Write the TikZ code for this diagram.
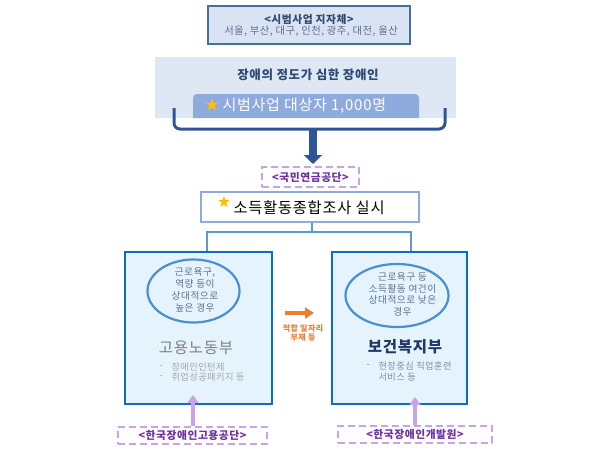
\documentclass[tikz,border=0pt]{standalone}
\usepackage{fontspec}
\setmainfont{Noto Sans CJK KR}[LetterSpace=5]
\usetikzlibrary{arrows.meta,shapes.geometric}
\definecolor{topborder}{HTML}{41719C}
\definecolor{topfill}{HTML}{DAE3F3}
\definecolor{toptext}{HTML}{2F4B6E}
\definecolor{subtext}{HTML}{5A7090}
\definecolor{bandfill}{HTML}{DEE8F5}
\definecolor{bandtext}{HTML}{2E4A72}
\definecolor{barfill}{HTML}{8FAADC}
\definecolor{bracketc}{HTML}{2F5597}
\definecolor{connc}{HTML}{5B9BD5}
\definecolor{deptborder}{HTML}{0F6CC4}
\definecolor{deptfill}{HTML}{E4F3FC}
\definecolor{ellc}{HTML}{4A90D0}
\definecolor{elltext}{HTML}{5E7291}
\definecolor{purpleline}{HTML}{C8A4E6}
\definecolor{purpletext}{HTML}{7030A0}
\definecolor{orangec}{HTML}{ED7D31}
\definecolor{gold}{HTML}{FFC000}
\definecolor{navy}{HTML}{1F3864}
\tikzset{
  dashbox/.style={draw=purpleline, line width=2.5pt, dash pattern=on 7pt off 4pt, fill=white, inner sep=0pt},
  dashtext/.style={text=purpletext, font=\bfseries\fontsize{10.8}{12}\selectfont},
  deptbox/.style={draw=deptborder, line width=2pt, fill=deptfill},
  ellbox/.style={draw=ellc, line width=2.2pt, ellipse, inner sep=0pt},
  elltxt/.style={text=elltext, align=center, font=\fontsize{9.7}{11.8}\selectfont},
  conn/.style={draw=connc, line width=2.5pt},
  uparrow/.style={draw=purpleline, line width=4pt, -{Triangle[width=11pt,length=8pt]}},
  staricon/.style={star, star points=5, star point ratio=2.4, fill=gold, inner sep=0pt, minimum size=13pt},
  bullettxt/.style={anchor=west, font=\fontsize{9.2}{10}\selectfont}
}
\begin{document}
\begin{tikzpicture}[x=1pt,y=-1pt]
\useasboundingbox (0,0) rectangle (610,450);
\fill[white] (0,0) rectangle (610,450);
% top box
\node[draw=topborder, line width=2.5pt, fill=topfill, minimum width=202pt, minimum height=38pt, inner sep=0pt] (top) at (309,25) {};
\node[text=toptext, font=\bfseries\fontsize{10.8}{12}\selectfont] (toptitle) at (309,19) {<시범사업 지자체>};
\node[text=subtext, font=\fontsize{10.3}{11}\selectfont] (topsub) at (311,31.5) {서울, 부산, 대구, 인천, 광주, 대전, 울산};
% band
\node[fill=bandfill, minimum width=301pt, minimum height=61pt, inner sep=0pt] (band) at (305.5,87.5) {};
\node[text=bandtext, font=\bfseries\fontsize{12.5}{13}\selectfont] (bandtitle) at (308,75) {장애의 정도가 심한 장애인};
\fill[barfill] (193,118) [rounded corners=4pt] -- (193,94) -- (419,94) [sharp corners] -- (419,118) -- cycle;
\node[staricon] (star1) at (212,105) {};
\node[text=white, font=\fontsize{15}{16}\selectfont, anchor=west] (bartext) at (219,106) {시범사업 대상자 1,000명};
% bracket
\draw[bracketc, line width=3pt, rounded corners=6pt] (174,108) -- (174,129) -- (445,129) -- (445,108);
\coordinate (bmid) at (313,129);
\node[dashbox, minimum width=97pt, minimum height=20pt] (nps) at (310.5,177) {};
\node[dashtext] (npstext) at (310.5,177) {<국민연금공단>};
\draw[bracketc, line width=8pt, -{Triangle[width=18pt,length=9pt]}] (bmid) -- (313,164);
% survey box
\node[draw=barfill, line width=2.5pt, fill=white, minimum width=218pt, minimum height=30pt, inner sep=0pt] (survey) at (310,207) {};
\node[staricon, minimum size=12pt] (star2) at (224,202) {};
\node[font=\fontsize{15.3}{16}\selectfont, anchor=west] (surveytext) at (230,208) {소득활동종합조사 실시};
% departments
\node[deptbox, minimum width=147pt, minimum height=152pt, inner sep=0pt] (left) at (198.5,328) {};
\node[deptbox, minimum width=135pt, minimum height=152pt, inner sep=0pt] (right) at (399.5,328) {};
\coordinate (j) at (312,232);
\draw[conn] (survey.south -| j) -- (j);
\draw[conn] (j) -| ([xshift=8.5pt]left.north);
\draw[conn] (j) -| ([xshift=11.5pt]right.north);
% ellipses
\node[ellbox, minimum width=92pt, minimum height=63pt] (lell) at (193.5,291) {};
\node[elltxt] (lelltext) at (195,290) {근로욕구,\\역량 등이\\상대적으로\\높은 경우};
\node[ellbox, minimum width=103pt, minimum height=63pt] (rell) at (397,295.5) {};
\node[elltxt] (relltext) at (402.5,294.5) {근로욕구 등\\소득활동 여건이\\상대적으로 낮은\\경우};
% dept names
\node[text=black!50, font=\fontsize{15.5}{16}\selectfont] (moel) at (196,348) {고용노동부};
\node[text=navy, font=\bfseries\fontsize{15.5}{16}\selectfont] (mohw) at (405,347) {보건복지부};
\node[text=black!35, bullettxt] (ld1) at (156,367) {-};
\node[text=black!35, bullettxt] (ld2) at (156,377) {-};
\node[text=black!35, bullettxt] (lb1) at (168,367) {장애인인턴제};
\node[text=black!35, bullettxt] (lb2) at (168,377) {취업성공패키지 등};
\node[text=elltext!80, bullettxt] (rd1) at (363,366) {-};
\node[text=elltext!80, bullettxt] (rb1) at (375,366) {현장중심 직업훈련};
\node[text=elltext!80, bullettxt] (rb2) at (375,377) {서비스 등};
% orange arrow
\coordinate (oa) at (285,313);
\coordinate (ob) at (314,313);
\draw[orangec, line width=4pt, -{Triangle[width=11pt,length=9pt]}] (oa) -- (ob);
\node[text=orangec, align=center, font=\bfseries\fontsize{8}{9.5}\selectfont] (otext) at (303,333) {적합 일자리\\부재 등};
% bottom dashed boxes
\node[dashbox, minimum width=149pt, minimum height=17pt] (kead) at (192.5,435.5) {};
\node[dashtext] (keadtext) at (192.5,435.5) {<한국장애인고용공단>};
\node[dashbox, minimum width=154pt, minimum height=17pt] (kodde) at (415,434.5) {};
\node[dashtext] (koddetext) at (415,434.5) {<한국장애인개발원>};
\draw[uparrow] (kead.north -| 193,0) -- (193,395);
\draw[uparrow] (kodde.north -| 415,0) -- (415,397);
\end{tikzpicture}
\end{document}
